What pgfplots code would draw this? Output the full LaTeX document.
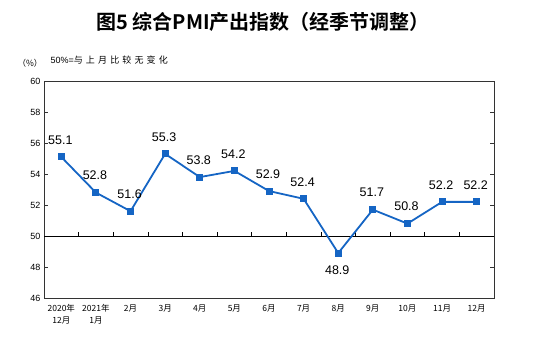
\documentclass[border=0pt]{standalone}
\usepackage{pgfplots}
\pgfplotsset{compat=1.18}
\usepackage{fontspec}
\setmainfont{Liberation Sans}
\newfontfamily\cjk{Noto Sans CJK SC}
\newfontfamily\cjkls[LetterSpace=35]{Noto Sans CJK SC}
\newfontfamily\cjkb{Noto Sans CJK SC Bold}
\definecolor{lineblue}{RGB}{21,101,196}
\begin{document}
\begin{tikzpicture}
\useasboundingbox (0pt,0pt) rectangle (543pt,353pt);
\node[font=\cjkb\fontsize{20}{22}\selectfont] at (263pt,331pt) {图5\ 综合PMI产出指数（经季节调整）};
\node[font=\cjk\fontsize{8.5}{9}\selectfont,anchor=west] at (14pt,290pt) {（\%）};
\node[font=\fontsize{9}{10}\selectfont,anchor=west] at (47pt,293pt) {50\%={\cjkls 与上月比较无变化}};
\begin{axis}[
  at={(44pt,55pt)}, anchor=south west,
  scale only axis, width=450pt, height=217pt,
  xmin=-0.5, xmax=12.5, ymin=46, ymax=60,
  ytick={46,48,...,60},
  tick align=inside,
  xtick=data,
  xtick style={draw=none},
  xticklabels={{2020年\\12月},{2021年\\1月},2月,3月,4月,5月,6月,7月,8月,9月,10月,11月,12月},
  xticklabel style={font=\cjk\fontsize{8.5}{12}\selectfont, align=center, anchor=north, yshift=-3pt},
  yticklabel style={font=\fontsize{9}{10}\selectfont},
  /pgf/number format/assume math mode=true,
  axis line style={draw=black!80, line width=0.8pt},
  ytick style={black!80, line width=0.6pt},
  major tick length=4pt,
  clip=false,
]
\draw[black, line width=0.8pt] (axis cs:-0.5,50) -- (axis cs:12.5,50);
\pgfplotsinvokeforeach{0.5,1.5,2.5,3.5,4.5,5.5,6.5,7.5,8.5,9.5,10.5,11.5}{\draw[black, line width=0.6pt] (axis cs:#1,50) -- ([yshift=4pt]axis cs:#1,50);}
\addplot[lineblue, line width=1.8pt, mark=square*, mark size=2.6pt, mark options={fill=lineblue, draw=lineblue},
  nodes near coords,
  visualization depends on={\thisrow{s} \as \labshift},
  nodes near coords style={text=black, font=\fontsize{12.5}{14}\selectfont, anchor=center, xshift=-1pt, yshift=\labshift pt,
    /pgf/number format/.cd, fixed, fixed zerofill, precision=1}]
  table[x=x,y=y] {
x y s
0 55.1 17
1 52.8 17
2 51.6 17
3 55.3 17
4 53.8 17
5 54.2 17
6 52.9 17
7 52.4 17
8 48.9 -17
9 51.7 17
10 50.8 17
11 52.2 17
12 52.2 17
};
\end{axis}
\end{tikzpicture}
\end{document}
